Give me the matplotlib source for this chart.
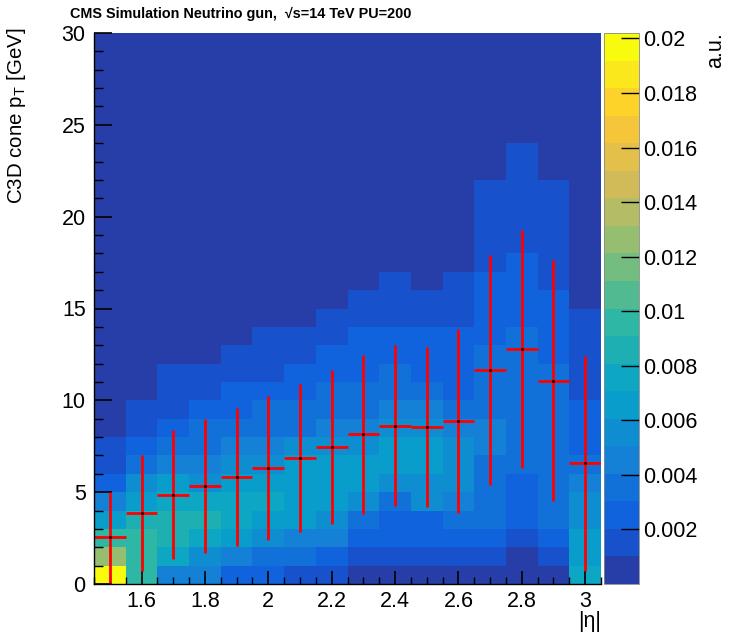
import numpy as np
import matplotlib
matplotlib.use("Agg")
import matplotlib.pyplot as plt
from matplotlib.colors import ListedColormap, BoundaryNorm
from matplotlib.ticker import MultipleLocator, FormatStrFormatter

plt.rcParams['font.family'] = ['Liberation Sans', 'DejaVu Sans']
plt.rcParams['mathtext.fontset'] = 'custom'
plt.rcParams['mathtext.rm'] = 'Liberation Sans'
plt.rcParams['mathtext.it'] = 'Liberation Sans:italic'
plt.rcParams['mathtext.bf'] = 'Liberation Sans:bold'

# ---------------- data ----------------
eta_edges = np.round(np.arange(1.45, 3.051, 0.1), 3)
pt_edges = np.arange(0, 31, 1)
eta_centers = [1.5, 1.6, 1.7, 1.8, 1.9, 2.0, 2.1, 2.2, 2.3, 2.4, 2.5, 2.6, 2.7, 2.8, 2.9, 3.0]

# cell contents (units of 1e-3 a.u.), from pT=0 upwards; rows not listed are ~0
col_1p5 = [19.5, 12.5, 9.5, 6.5, 4.5, 2.5, 1.5, 1.5]
col_1p6 = [9.5, 9.5, 9.5, 8.5, 6.5, 5.5, 3.5, 2.5, 1.5, 1.5]
col_1p7 = [4.5, 7.5, 8.5, 8.5, 7.5, 6.5, 4.5, 3.5, 2.5, 1.5, 1.5, 1.5]
col_1p8 = [4.5, 5.5, 7.5, 8.5, 7.5, 5.5, 4.5, 3.5, 3.5, 2.5, 1.5, 1.5]
col_1p9 = [2.5, 4.5, 6.5, 7.5, 7.5, 6.5, 5.5, 4.5, 3.5, 2.5, 2.5, 1.5, 1.5]
col_2p0 = [2.5, 3.5, 5.5, 6.5, 7.5, 6.5, 5.5, 4.5, 3.5, 3.5, 2.5, 1.5, 1.5, 1.5]
col_2p1 = [1.5, 3.5, 4.5, 6.5, 6.5, 6.5, 6.5, 5.5, 3.5, 3.5, 2.5, 2.5, 1.5, 1.5]
col_2p2 = [1.5, 2.5, 4.5, 5.5, 6.5, 6.5, 6.5, 5.5, 4.5, 3.5, 3.5, 2.5, 2.5, 1.5, 1.5]
col_2p3 = [0.3, 1.5, 2.5, 3.5, 5.5, 6.5, 6.5, 5.5, 4.5, 3.5, 3.5, 2.5, 2.5, 2.5, 1.5, 1.5]
col_2p4 = [0.3, 1.5, 2.5, 2.5, 3.5, 5.5, 6.5, 6.5, 5.5, 4.5, 3.5, 3.5, 2.5, 2.5, 1.5, 1.5, 1.5]
col_2p5 = [0.3, 1.5, 2.5, 2.5, 5.5, 5.5, 6.5, 6.5, 5.5, 4.5, 3.5, 2.5, 2.5, 2.5, 1.5, 1.5]
col_2p6 = [0.3, 1.5, 2.5, 3.5, 4.5, 5.5, 5.5, 5.5, 4.5, 3.5, 2.5, 2.5, 2.5, 2.5, 1.5, 1.5, 1.5]
col_2p7 = [0.3, 1.5, 2.5, 3.5, 3.5, 3.5, 3.5, 4.5, 4.5, 3.5, 3.5, 3.5, 3.5, 2.5, 2.5, 2.5, 2.5,
           1.5, 1.5, 1.5, 1.5, 1.5]
col_2p8 = [0.3, 0.3, 1.5, 2.5, 2.5, 2.5, 3.5, 3.5, 3.5, 3.5, 3.5, 3.5, 3.5, 3.5, 2.5, 2.5, 2.5, 2.5,
           1.5, 1.5, 1.5, 1.5, 1.5, 1.5]
col_2p9 = [0.3, 1.5, 2.5, 3.5, 3.5, 3.5, 3.5, 3.5, 3.5, 3.5, 3.5, 3.5, 2.5, 2.5, 2.5, 2.5,
           1.5, 1.5, 1.5, 1.5, 1.5, 1.5]
col_3p0 = [7.5, 6.5, 6.5, 5.5, 5.5, 4.5, 3.5, 2.5, 2.5, 2.5, 1.5, 1.5, 1.5, 1.5, 1.5]

# profile (mean and RMS of pT per |eta| bin)
profile_mean = [2.55, 3.85, 4.86, 5.34, 5.84, 6.32, 6.86, 7.47, 8.15, 8.62, 8.55, 8.89,
                11.65, 12.79, 11.07, 6.57]
profile_rms = [2.47, 3.15, 3.52, 3.64, 3.76, 3.90, 4.02, 4.18, 4.33, 4.38, 4.34, 5.0,
               6.26, 6.5, 6.57, 5.84]

columns = [col_1p5, col_1p6, col_1p7, col_1p8, col_1p9, col_2p0, col_2p1, col_2p2,
           col_2p3, col_2p4, col_2p5, col_2p6, col_2p7, col_2p8, col_2p9, col_3p0]
nrow = len(pt_edges) - 1
Z = np.zeros((nrow, len(columns)))
for j, c in enumerate(columns):
    Z[:len(c), j] = np.array(c) * 1e-3

# ---------------- palette (ROOT kBird, 20 contours) ----------------
stops = [0.0, 0.125, 0.25, 0.375, 0.5, 0.625, 0.75, 0.875, 1.0]
red = [0.2082, 0.0592, 0.0780, 0.0232, 0.1802, 0.5301, 0.8186, 0.9956, 0.9764]
green = [0.1664, 0.3599, 0.5041, 0.6419, 0.7178, 0.7492, 0.7328, 0.7862, 0.9832]
blue = [0.5293, 0.8684, 0.8385, 0.7914, 0.6425, 0.4662, 0.3499, 0.1968, 0.0539]
ncont = 20
zmax = 0.0202
fr = [int((i + 0.99) * 255 / ncont) / 254 for i in range(ncont)]
cols = [(np.interp(f, stops, red), np.interp(f, stops, green), np.interp(f, stops, blue)) for f in fr]
cmap = ListedColormap(cols)
levels = np.linspace(0, zmax, ncont + 1)
norm = BoundaryNorm(levels, ncont)

# ---------------- figure ----------------
W, H = 731, 634
fig = plt.figure(figsize=(W / 100, H / 100), dpi=100)
ax = fig.add_axes([94 / W, 1 - 584 / H, (601 - 94) / W, (584 - 33) / H])
cax = fig.add_axes([604 / W, 1 - 584 / H, 35 / W, (584 - 33) / H])

mesh = ax.pcolormesh(eta_edges, pt_edges, Z, cmap=cmap, norm=norm, zorder=1)
ax.errorbar(eta_centers, profile_mean, yerr=profile_rms, xerr=0.05, fmt='o', ms=1.0,
            mfc='black', mec='black', ecolor='#ff0000', elinewidth=2.0, capsize=0, zorder=3)
ax.set_xlim(1.45, 3.05)
ax.set_ylim(0, 30)

ax.xaxis.set_major_locator(MultipleLocator(0.2))
ax.xaxis.set_minor_locator(MultipleLocator(0.05))
ax.yaxis.set_major_locator(MultipleLocator(5))
ax.yaxis.set_minor_locator(MultipleLocator(1))
ax.xaxis.set_major_formatter(FormatStrFormatter('%g'))
ax.yaxis.set_major_formatter(FormatStrFormatter('%g'))
ax.tick_params(axis='both', which='both', direction='in', top=False, right=False, color='black',
               labelsize=15.5, zorder=5)
ax.tick_params(axis='y', which='major', length=13, width=1.2, pad=6)
ax.tick_params(axis='y', which='minor', length=6.5, width=1.0)
ax.tick_params(axis='x', which='major', length=9.5, width=1.2, pad=5)
ax.tick_params(axis='x', which='minor', length=5, width=1.0)
for s in ['top', 'right']:
    ax.spines[s].set_visible(False)
for s in ['left', 'bottom']:
    ax.spines[s].set_color('black')
    ax.spines[s].set_linewidth(1.0)
    ax.spines[s].set_zorder(6)

cb = fig.colorbar(mesh, cax=cax, ticks=np.arange(0.002, 0.0201, 0.002))
cb.outline.set_linewidth(0.6)
cb.outline.set_edgecolor('#888888')
cax.yaxis.set_ticks_position('right')
cax.yaxis.set_major_formatter(FormatStrFormatter('%g'))
cax.tick_params(axis='y', which='major', direction='in', length=13, width=1.0, labelsize=15.5, pad=3)
cax.minorticks_off()

# texts
fig.text(70 / W, 1 - 14 / H, 'CMS Simulation Neutrino gun,  \u221as=14 TeV PU=200',
         ha='left', va='center', fontsize=10.4, fontweight='bold')
fig.text(17 / W, 1 - 28 / H, r'C3D cone p$_{\mathrm{T}}$ [GeV]', rotation=90, ha='center', va='top',
         fontsize=14.8)
fig.text(601 / W, 1 - 611 / H, '|\u03b7|', ha='right', va='top', fontsize=15.5)
fig.text(716 / W, 1 - 32 / H, 'a.u.', rotation=90, ha='center', va='top', fontsize=15.5)

fig.savefig('out.png', dpi=100)
